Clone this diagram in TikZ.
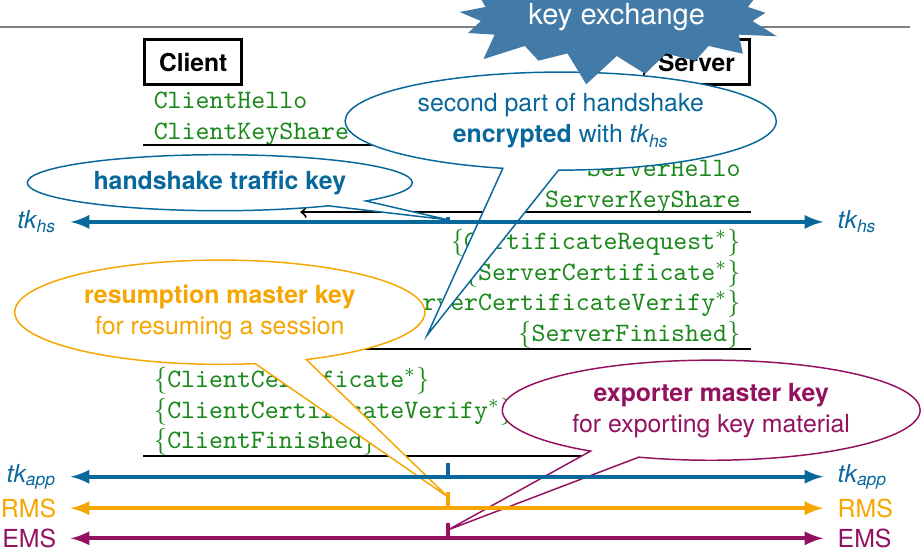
\documentclass[tikz,border=0pt]{standalone}
\usepackage{fontspec}
\setmainfont{TeX Gyre Heros}
\usepackage{tikz}
\usetikzlibrary{shapes.callouts}
\usetikzlibrary{shapes.symbols}
\usetikzlibrary{positioning}
\definecolor{hsblue}{RGB}{8,104,156}
\definecolor{rmsorange}{RGB}{245,166,0}
\definecolor{emspurple}{RGB}{148,17,96}
\definecolor{msggreen}{RGB}{25,135,25}
\definecolor{kxblue}{RGB}{66,122,168}
\tikzset{party/.style={draw,line width=1.2pt,minimum height=0.64cm,font=\fontsize{10}{12}\selectfont\bfseries},msg/.style={inner sep=0pt,text=msggreen,font=\fontsize{10.8}{12.4}\selectfont\ttfamily},flow/.style={line width=0.8pt,->},bubble/.style={ellipse callout,draw,fill=white,line width=0.6pt,inner sep=0pt,align=center,font=\fontsize{10.1}{12.6}\selectfont},keylbl/.style={inner xsep=0.2cm,inner ysep=0pt,font=\fontsize{10.1}{12}\selectfont},keyline/.style={line width=1.6pt,latex-latex},keytick/.style={line width=1.6pt}}

\begin{document}
\begin{tikzpicture}
\useasboundingbox (0,0) rectangle (13.157,-7.843);
\draw[gray,line width=0.8pt] (0,-0.39) -- (13.0,-0.39);

\node (client) [party, minimum width=1.39cm] at (2.76,-0.89) {Client};
\node (server) [party, minimum width=1.50cm] at (9.95,-0.89) {Server};

\node (c1) [msg, anchor=north west, align=left] at (2.19,-1.31) {ClientHello\\ClientKeyShare};
\node (s1) [msg, anchor=north east, align=right] at (10.585,-2.28) {ServerHello\\ServerKeyShare};
\node (s2) [msg, anchor=north east, align=right] at (10.585,-3.27) {$\{$CertificateRequest$^*\}$\\$\{$ServerCertificate$^*\}$\\$\{$ServerCertificateVerify$^*\}$\\$\{$ServerFinished$\}$};
\node (c2) [msg, anchor=north west, align=left] at (2.19,-5.24) {$\{$ClientCertificate$^*\}$\\$\{$ClientCertificateVerify$^*\}$\\$\{$ClientFinished$\}$};

\coordinate (hello) at (8.49,-2.07);
\coordinate (share) at (4.29,-3.03);
\coordinate (sfin) at (4.29,-4.99);
\coordinate (cfin) at (8.79,-6.51);
\draw[flow] (client.west |- hello) -- (hello);
\draw[flow] (server.east |- share) -- (share);
\draw[flow] (server.east |- sfin) -- (sfin);
\draw[flow] (client.west |- cfin) -- (cfin);

\coordinate (hsT) at (6.40,-3.14);
\coordinate (encEnd) at (6.10,-4.79);
\coordinate (appT) at (6.40,-6.61);
\coordinate (rmsT) at (6.40,-7.10);
\coordinate (emsT) at (6.40,-7.57);

% callouts
\node (encNote) [bubble, draw=hsblue, text=hsblue, minimum width=6.16cm, minimum height=1.40cm, callout absolute pointer={(encEnd)}] at (8.01,-1.73) {second part of handshake\\\textbf{encrypted} with \textit{tk\textsubscript{hs}}};
\node (hsNote) [bubble, draw=hsblue, text=hsblue, minimum width=5.5cm, minimum height=0.8cm, callout absolute pointer={(hsT)}] at (3.14,-2.61) {\textbf{handshake traffic key}};
\node (rmsNote) [bubble, draw=rmsorange, text=rmsorange, minimum width=5.86cm, minimum height=1.49cm, callout absolute pointer={(rmsT)}] at (3.14,-4.46) {\textbf{resumption master key}\\for resuming a session};
\node (emsNote) [bubble, draw=emspurple, text=emspurple, minimum width=5.97cm, minimum height=1.43cm, callout absolute pointer={(emsT)}] at (10.16,-5.86) {\textbf{exporter master key}\\for exporting key material};

\node (kx) [starburst, fill=kxblue, text=white, minimum width=4.6cm, minimum height=2.1cm, font=\fontsize{11.8}{14}\selectfont] at (8.81,-0.25) {key exchange};

% keys
\node (hsL) [keylbl, text=hsblue, anchor=east] at (1.01,-3.17) {\textit{tk\textsubscript{hs}}};
\node (hsR) [keylbl, text=hsblue, anchor=west] at (11.76,-3.17) {\textit{tk\textsubscript{hs}}};
\draw[keyline, hsblue] (hsL) -- (hsR);
\draw[keytick, hsblue] ([yshift=0.04cm]hsT) -- (hsT |- hsL);

\node (appL) [keylbl, text=hsblue, anchor=east] at (1.01,-6.81) {\textit{tk\textsubscript{app}}};
\node (appR) [keylbl, text=hsblue, anchor=west] at (11.76,-6.81) {\textit{tk\textsubscript{app}}};
\draw[keyline, hsblue] (appL) -- (appR);
\draw[keytick, hsblue] (appT) -- (appT |- appL);

\node (rmsL) [keylbl, text=rmsorange, anchor=east] at (1.01,-7.26) {RMS};
\node (rmsR) [keylbl, text=rmsorange, anchor=west] at (11.76,-7.26) {RMS};
\draw[keyline, rmsorange] (rmsL) -- (rmsR);
\draw[keytick, rmsorange] ([yshift=0.07cm]rmsT) -- (rmsT |- rmsL);

\node (emsL) [keylbl, text=emspurple, anchor=east] at (1.01,-7.69) {EMS};
\node (emsR) [keylbl, text=emspurple, anchor=west] at (11.76,-7.69) {EMS};
\draw[keyline, emspurple] (emsL) -- (emsR);
\draw[keytick, emspurple] ([yshift=0.1cm]emsT) -- (emsT |- emsL);
\end{tikzpicture}
\end{document}
